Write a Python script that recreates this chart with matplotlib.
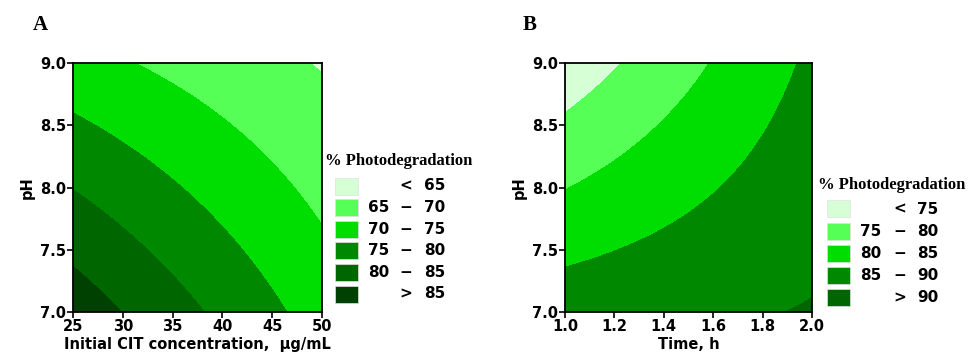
import numpy as np
import matplotlib.pyplot as plt
from matplotlib.patches import Rectangle

W, H = 971, 358

# panel A: % photodegradation vs initial CIT concentration and pH
# coded model y = b0 + b1*x1 + b2*x2 + b12*x1*x2 (x1, x2 scaled to -1..1)
conc_range = [25, 50]
ph_range = [7.0, 9.0]
coef_a = [74.31, -5.55, -6.1, 2.0]
levels_a = [0, 65, 70, 75, 80, 85, 200]
labels_a = [("", "<", "65"), ("65", "\u2212", "70"), ("70", "\u2212", "75"),
            ("75", "\u2212", "80"), ("80", "\u2212", "85"), ("", ">", "85")]
colors_a = ['#d6ffd6', '#55ff55', '#00dd00', '#008800', '#006600', '#004000']
xticks_a = [25, 30, 35, 40, 45, 50]

# panel B: % photodegradation vs time and pH
time_range = [1.0, 2.0]
coef_b = [83.95, 4.11, -5.13, 2.93]
levels_b = [0, 75, 80, 85, 90, 200]
labels_b = [("", "<", "75"), ("75", "\u2212", "80"), ("80", "\u2212", "85"),
            ("85", "\u2212", "90"), ("", ">", "90")]
colors_b = ['#d6ffd6', '#55ff55', '#00dd00', '#008800', '#006600']
xticks_b = [1.0, 1.2, 1.4, 1.6, 1.8, 2.0]
yticks = [7.0, 7.5, 8.0, 8.5, 9.0]

plt.rcParams['font.family'] = 'DejaVu Sans'
fig = plt.figure(figsize=(W / 100, H / 100), dpi=100)


def box(l, t, r, b):
    return [l / W, 1 - b / H, (r - l) / W, (b - t) / H]


def surface(xr, coef):
    x = np.linspace(xr[0], xr[1], 300)
    y = np.linspace(ph_range[0], ph_range[1], 300)
    X, Y = np.meshgrid(x, y)
    a = (X - (xr[0] + xr[1]) / 2) / ((xr[1] - xr[0]) / 2)
    b = (Y - 8.0) / 1.0
    Z = coef[0] + coef[1] * a + coef[2] * b + coef[3] * a * b
    return X, Y, Z


def panel(rect, xr, coef, levels, colors, xticks, fmt, xlabel, letter, lx):
    ax = fig.add_axes(box(*rect))
    X, Y, Z = surface(xr, coef)
    ax.contourf(X, Y, Z, levels=levels, colors=colors)
    ax.set_xlim(xr)
    ax.set_ylim(ph_range)
    ax.set_xticks(xticks)
    ax.set_xticklabels([fmt % v for v in xticks])
    ax.set_yticks(yticks)
    ax.set_yticklabels(['%.1f' % v for v in yticks])
    ax.tick_params(labelsize=10.5, length=4, width=1.2, pad=1)
    for lab in ax.get_xticklabels() + ax.get_yticklabels():
        lab.set_fontweight('bold')
    for s in ax.spines.values():
        s.set_linewidth(1.3)
    ax.set_xlabel(xlabel, fontsize=10.5, fontweight='bold', labelpad=2)
    ax.set_ylabel('pH', fontsize=10.5, fontweight='bold', labelpad=4)
    fig.text(lx / W, 1 - 25 / H, letter, fontsize=15, fontweight='bold',
             family='Liberation Serif', va='center', ha='left')
    return ax


def legend(title_x, title_y, px, row0, step, colors, labels, cx):
    fig.text(title_x / W, 1 - title_y / H, '% Photodegradation', fontsize=12,
             fontweight='bold', family='Liberation Serif', va='center', ha='left')
    for i, (c, (lo, op, hi)) in enumerate(zip(colors, labels)):
        yc = row0 + i * step
        fig.patches.append(Rectangle(((px) / W, 1 - (yc + 8.5) / H), 23 / W, 17 / H,
                                     transform=fig.transFigure, facecolor=c,
                                     edgecolor='#e0e0e0', linewidth=0.5))
        for txt, x in zip((lo, op, hi), cx):
            if txt:
                fig.text(x / W, 1 - yc / H, txt, fontsize=11, fontweight='bold',
                         va='center', ha='center')


panel((73, 63, 322, 312), conc_range, coef_a, levels_a, colors_a, xticks_a, '%d',
      'Initial CIT concentration,  \u03bcg/mL', 'A', 33)
legend(325, 161, 335, 186, 21.6, colors_a, labels_a, (379, 406, 435))

panel((565, 63, 812, 312), time_range, coef_b, levels_b, colors_b, xticks_b, '%.1f',
      'Time, h', 'B', 523)
legend(818, 185, 827, 209, 22.2, colors_b, labels_b, (871, 900, 928))

fig.savefig('out.png', dpi=100)
